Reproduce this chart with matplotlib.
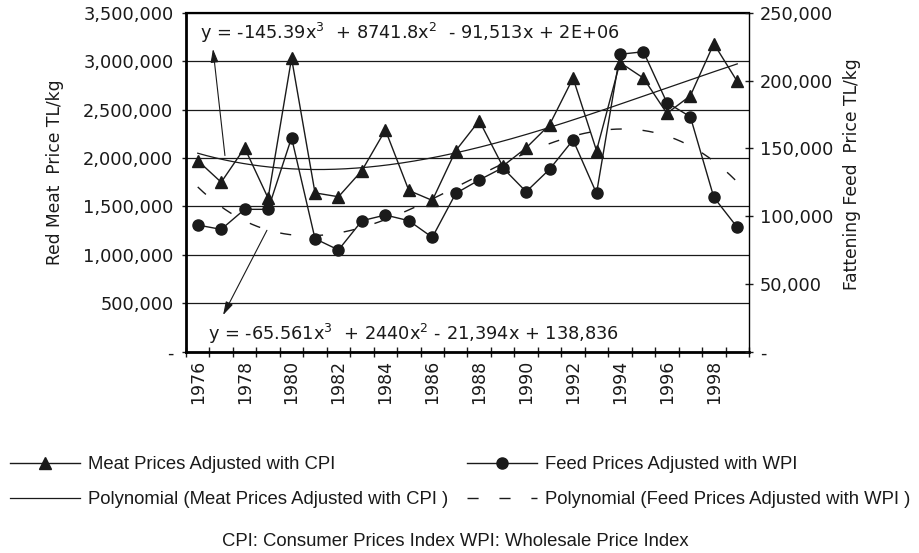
import numpy as np
import matplotlib
matplotlib.use('Agg')
import matplotlib.pyplot as plt
from matplotlib.ticker import FuncFormatter

# data
years = list(range(1976, 2000))
meat = [1974000, 1750000, 2105000, 1586000, 3033000, 1640000, 1600000, 1871000,
        2290000, 1665000, 1562000, 2077000, 2387000, 1916000, 2105000, 2345000,
        2827000, 2077000, 2988000, 2827000, 2462000, 2644000, 3183000, 2792000]
feed = [93400, 90200, 105000, 105000, 157900, 83300, 75000, 96600,
        100800, 96600, 84300, 116800, 126700, 135700, 118000, 134600,
        156200, 116800, 219500, 221400, 183800, 173400, 113900, 91700]

lab_meat = 'Meat Prices Adjusted with CPI'
lab_feed = 'Feed Prices Adjusted with WPI'
lab_pmeat = 'Polynomial (Meat Prices Adjusted with CPI )'
lab_pfeed = 'Polynomial (Feed Prices Adjusted with WPI )'
eq_meat = 'y = -145.39x$^3$  + 8741.8x$^2$  - 91,513x + 2E+06'
eq_feed = 'y = -65.561x$^3$  + 2440x$^2$ - 21,394x + 138,836'
note = 'CPI: Consumer Prices Index WPI: Wholesale Price Index'

plt.rcParams['font.family'] = 'DejaVu Sans'
plt.rcParams['mathtext.default'] = 'regular'
ink = '#1a1a1a'

# cubic trendlines (x = 1..n like the spreadsheet)
n = len(years)
xi = np.arange(1, n + 1)
cm = np.polyfit(xi, meat, 3)
cf = np.polyfit(xi, feed, 3)
xs = np.linspace(1, n, 300)

fig = plt.figure(figsize=(9.2, 5.53), dpi=100)
W, H = 920, 553
ax = fig.add_axes([186 / W, 1 - 351.5 / H, (749 - 186) / W, (351.5 - 13) / H])
pos = np.arange(n)

l1, = ax.plot(pos, meat, color=ink, lw=1, marker='^', ms=9, label=lab_meat)
l2, = ax.plot(xs - 1, np.polyval(cm, xs), color=ink, lw=0.9, label=lab_pmeat)
ax.set_xlim(-0.5, n - 0.5)
ax.set_ylim(0, 3500000)
ax.set_yticks(np.arange(0, 3500001, 500000))
ax.yaxis.set_major_formatter(FuncFormatter(lambda v, p: '-' if v == 0 else f'{int(v):,}'))
ax.grid(axis='y', color=ink, lw=0.9)
ax.set_axisbelow(True)
ax.set_xticks(pos[::2])
ax.set_xticklabels([str(y) for y in years[::2]], rotation=90)
ax.set_xticks(np.arange(-0.5, n, 1), minor=True)
ax.tick_params(axis='x', which='major', length=0, pad=6, labelsize=12.5, labelcolor=ink)
ax.tick_params(axis='x', which='minor', direction='inout', length=7, width=1, color=ink)
ax.tick_params(axis='y', direction='out', length=3, width=1, pad=6, labelsize=12.8,
               labelcolor=ink, color=ink)
ax.spines['top'].set_linewidth(1.6)
ax.spines['left'].set_linewidth(2)
ax.spines['bottom'].set_linewidth(2)
ax.spines['right'].set_visible(False)

ax2 = ax.twinx()
l3, = ax2.plot(pos, feed, color=ink, lw=1, marker='o', ms=8, label=lab_feed)
l4, = ax2.plot(xs - 1, np.polyval(cf, xs), color=ink, lw=1, dashes=(8, 15), label=lab_pfeed)
ax2.set_ylim(0, 250000)
ax2.set_yticks(np.arange(0, 250001, 50000))
ax2.yaxis.set_major_formatter(FuncFormatter(lambda v, p: '-' if v == 0 else f'{int(v):,}'))
ax2.tick_params(axis='y', direction='inout', length=6, width=1, pad=5, labelsize=12.8,
                labelcolor=ink, color=ink)
for s in ['left', 'top', 'bottom']:
    ax2.spines[s].set_visible(False)
ax2.spines['right'].set_linewidth(1)
ax2.set_xlim(-0.5, n - 0.5)

# axis titles
fig.text(55 / W, 1 - 172 / H, 'Red Meat  Price TL/kg', rotation=90, ha='center', va='center',
         fontsize=12.3, color=ink)
fig.text(852 / W, 1 - 174 / H, 'Fattening Feed  Price TL/kg', rotation=90, ha='center',
         va='center', fontsize=12.3, color=ink)

# trend equations with arrows
ax.text(0.025, 0.941, eq_meat, transform=ax.transAxes, ha='left', va='center',
        fontsize=12.8, color=ink)
ax.text(0.039, 0.052, eq_feed, transform=ax.transAxes, ha='left', va='center',
        fontsize=12.8, color=ink)
arr = dict(arrowstyle='-|>,head_length=0.45,head_width=0.13', color=ink, lw=0.8,
           mutation_scale=18, shrinkA=0, shrinkB=0)
ax.annotate('', xy=(0.65, 3129000), xytext=(1.16, 2026000), arrowprops=arr)
ax.annotate('', xy=(1.08, 376000), xytext=(2.95, 1253000), arrowprops=arr)

# legend and footnote
fig.legend([l1, l2, l3, l4], [lab_meat, lab_pmeat, lab_feed, lab_pfeed],
           loc='upper left', bbox_to_anchor=(10 / W, 1 - 456 / H), ncol=2,
           frameon=False, prop={'family': 'Liberation Sans', 'size': 13.3},
           handlelength=3.8, handletextpad=0.4, columnspacing=1.05,
           labelspacing=0.98, borderpad=0, borderaxespad=0, numpoints=1,
           labelcolor=ink)
fig.text(455 / W, 1 - 542 / H, note, ha='center', va='center',
         family='Liberation Sans', fontsize=13.3, color=ink)

plt.savefig('out.png', dpi=100)
